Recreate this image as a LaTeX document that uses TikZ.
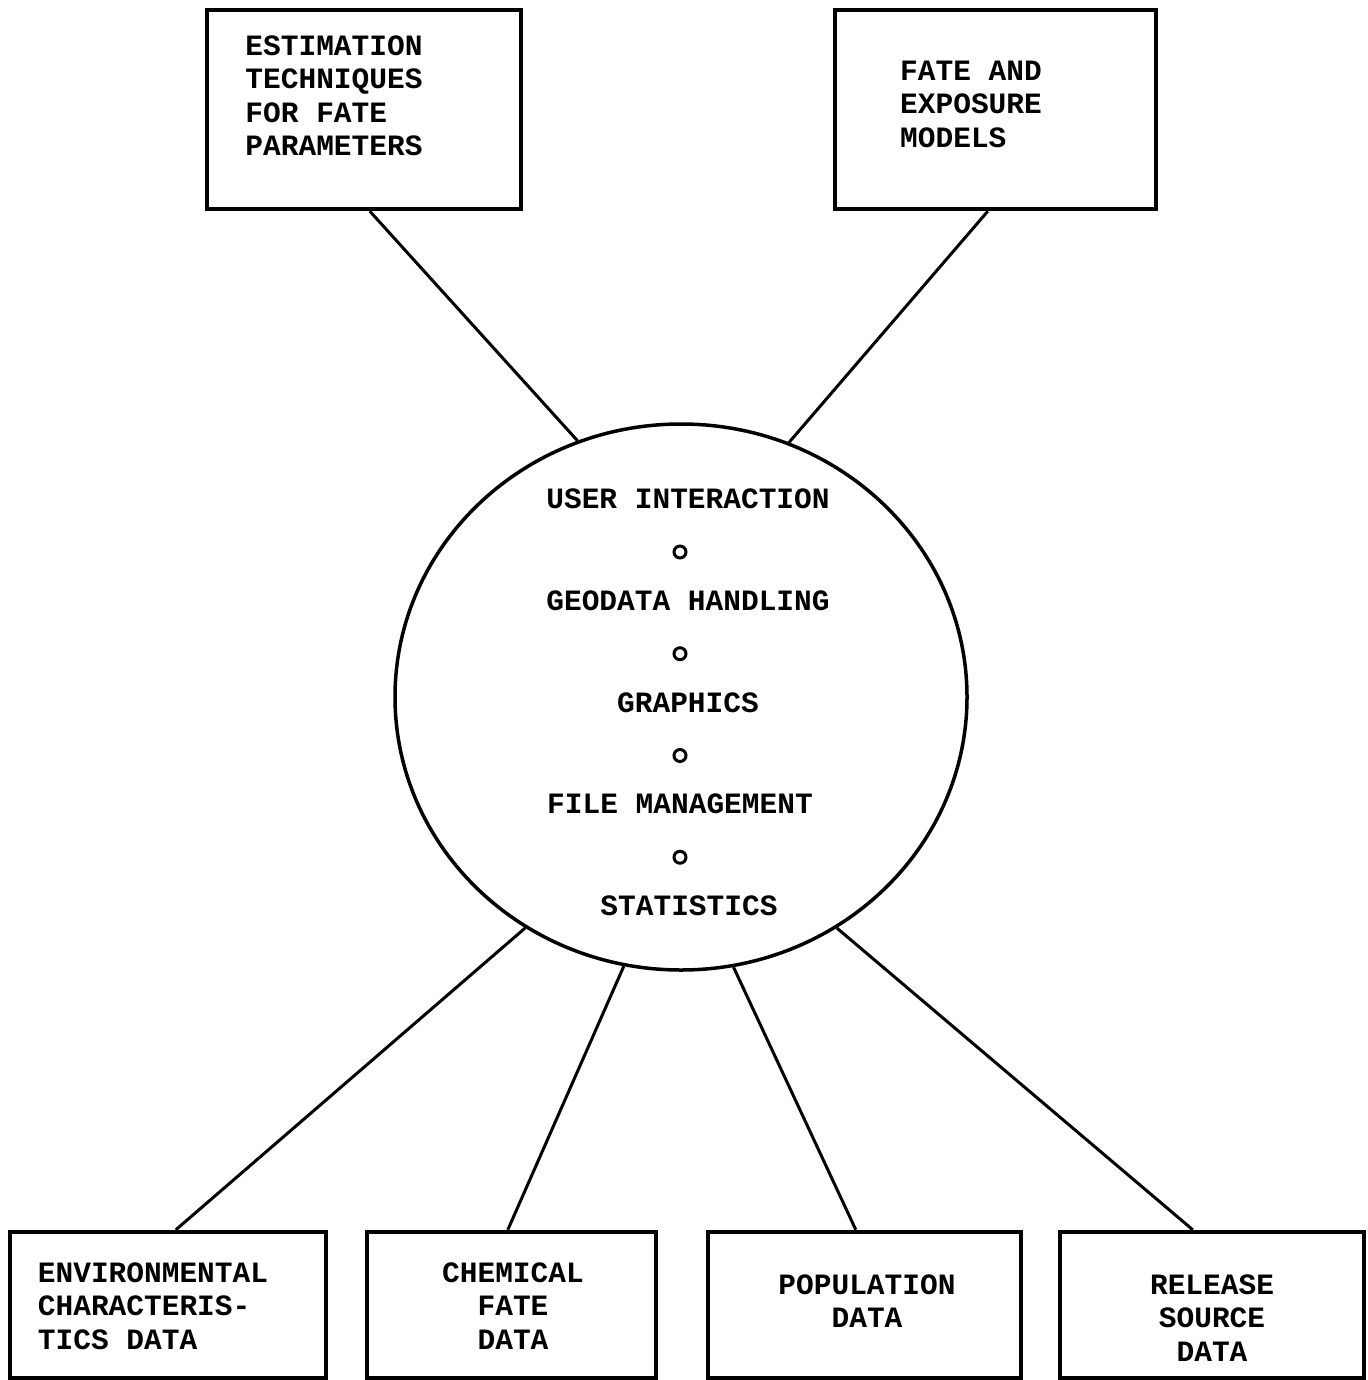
\documentclass[tikz,border=0pt]{standalone}
\usepackage{fontspec}
\setmonofont{Liberation Mono}
\usepackage{tikz}
\usetikzlibrary{positioning}
\usetikzlibrary{calc}
\usetikzlibrary{shapes.geometric}

\begin{document}
\begin{tikzpicture}[x=0.5pt,y=-0.5pt,
    box/.style={draw,line width=2.2pt,minimum height=99.5pt},
    lowbox/.style={draw,line width=2.2pt,minimum height=73pt},
    words/.style={font=\ttfamily\bfseries\fontsize{14.75}{16.75}\selectfont,inner sep=0pt},
    sep/.style={draw,circle,line width=1.5pt,minimum size=6pt,inner sep=0pt},
    spoke/.style={line width=1.5pt}]
  \useasboundingbox (0,0) rectangle (1368,1380);
  \node[box,minimum width=157pt] (est) at (364,109.5) {};
  \node[box,minimum width=160.5pt] (fem) at (995.5,109.5) {};
  \node[lowbox,minimum width=158pt] (env) at (168,1305) {};
  \node[lowbox,minimum width=144.5pt] (chem) at (511.5,1305) {};
  \node[lowbox,minimum width=156.5pt] (pop) at (864.5,1305) {};
  \node[lowbox,minimum width=152pt] (rel) at (1212,1305) {};
  \node[words,align=left] (estT) at (334,96) {ESTIMATION\\TECHNIQUES\\FOR FATE\\PARAMETERS};
  \node[words,align=left] (femT) at (971,104) {FATE AND\\EXPOSURE\\MODELS};
  \node[words,align=left] (envT) at (153,1306) {ENVIRONMENTAL\\CHARACTERIS-\\TICS DATA};
  \node[words,align=center] (chemT) at (513,1306) {CHEMICAL\\FATE\\DATA};
  \node[words,align=center] (popT) at (867,1301) {POPULATION\\DATA};
  \node[words,align=center] (relT) at (1212,1318) {RELEASE\\SOURCE\\DATA};
  \node[draw,ellipse,line width=1.75pt,minimum width=286pt,minimum height=273pt,inner sep=0pt] (hub) at (681,697) {};
  \foreach \t/\x [count=\i] in {USER INTERACTION/688,GEODATA HANDLING/688,GRAPHICS/688,FILE MANAGEMENT/680,STATISTICS/689}
    \node[words] (hub\i) at (\x,{499+101.75*(\i-1)}) {\t};
  \foreach \i in {1,...,4}
    \node[sep] (o\i) at (680,{552+101.75*(\i-1)}) {};
  \draw[spoke] (hub.112.8) -- ($(est.south west)+(165,0)$);
  \draw[spoke] (hub.67.6) -- ($(fem.south west)+(155,0)$);
  \draw[spoke] (hub.236.2) -- ($(env.north west)+(168,0)$);
  \draw[spoke] (hub.258.1) -- ($(chem.north west)+(143,0)$);
  \draw[spoke] (hub.281.7) -- ($(pop.north west)+(150,0)$);
  \draw[spoke] (hub.304.8) -- ($(rel.north west)+(135,0)$);
\end{tikzpicture}
\end{document}
